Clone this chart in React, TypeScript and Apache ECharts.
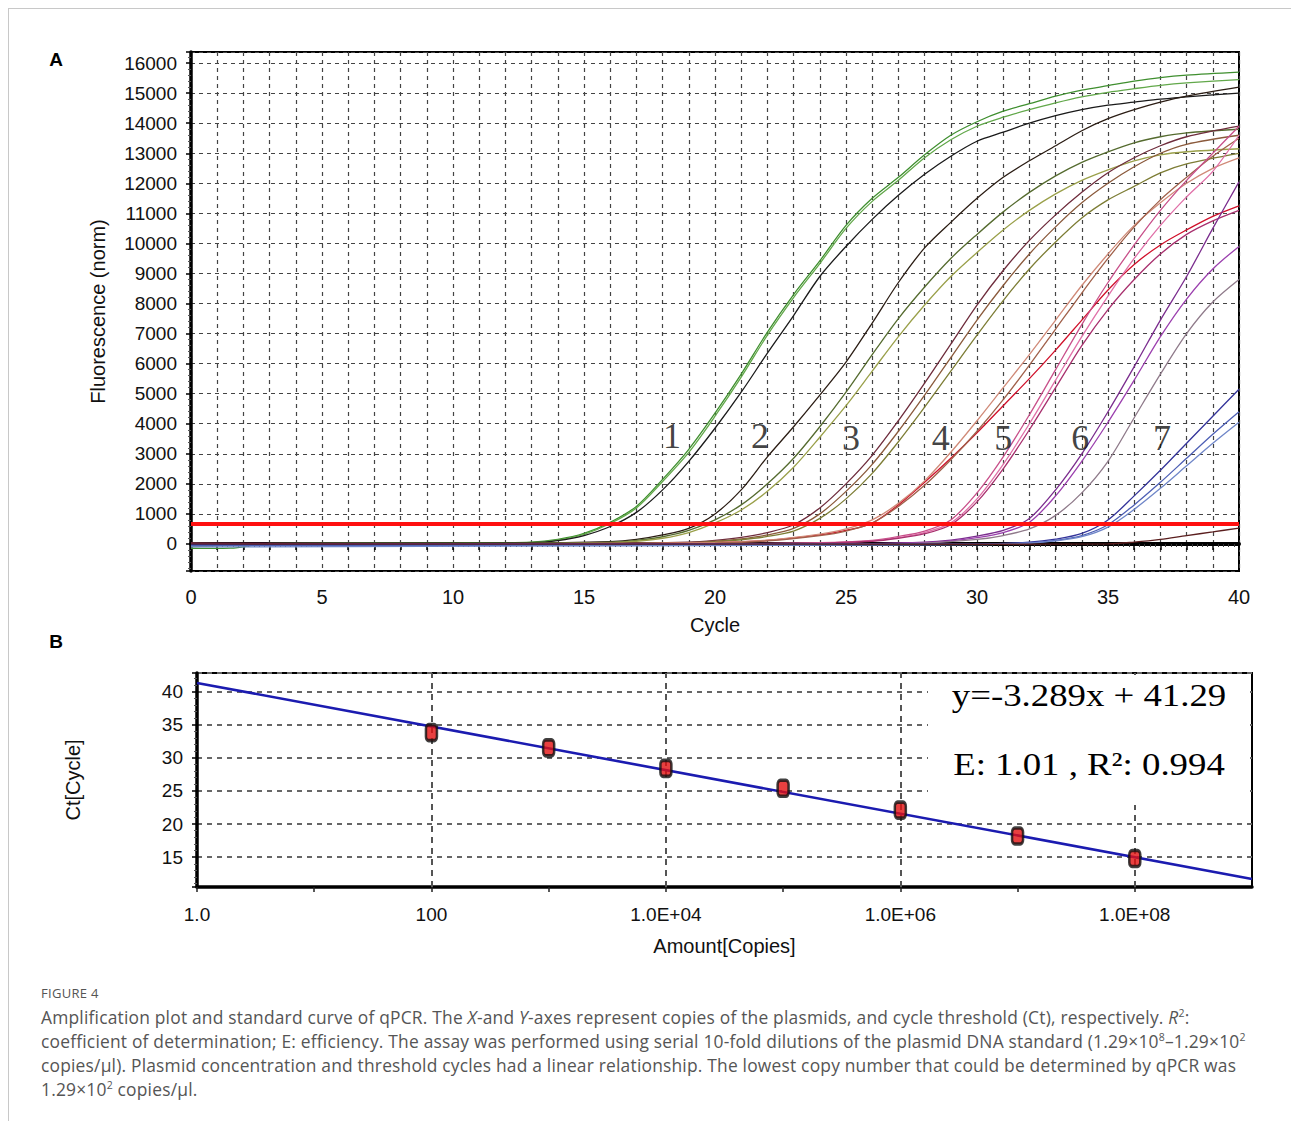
import React, { useEffect, useRef } from "react";
import * as echarts from "echarts";

// ---------- Panel A: amplification curves, [cycle, fluorescence (norm)] ----------
const curve1a = [[0,-150],[1.5,-140],[3,20],[10,30],[13,60],[14,150],[15,350],[16,720],[17,1250],[18,2150],[19,3150],[20,4350],[21,5650],[22,7050],[23,8300],[24,9420],[25,10600],[26,11500],[27,12200],[28,12950],[29,13600],[30,14050],[31,14400],[32,14650],[33,14900],[34,15100],[35,15250],[36,15400],[37,15520],[38,15600],[40,15700]];
const curve1b = [[0,-100],[3,10],[10,20],[13,50],[14,130],[15,320],[16,680],[17,1200],[18,2080],[19,3050],[20,4250],[21,5550],[22,6950],[23,8200],[24,9330],[25,10500],[26,11400],[27,12100],[28,12850],[29,13450],[30,13900],[31,14200],[32,14450],[33,14680],[34,14880],[35,15030],[36,15150],[37,15260],[38,15340],[40,15450]];
const curve1c = [[0,-60],[3,-20],[10,10],[13,40],[14,110],[15,280],[16,580],[17,1050],[18,1800],[19,2750],[20,3850],[21,5050],[22,6350],[23,7600],[24,8900],[25,9900],[26,10800],[27,11600],[28,12300],[29,12900],[30,13400],[31,13700],[32,14000],[33,14250],[34,14450],[35,14600],[36,14700],[37,14800],[38,14880],[40,15000]];
const curve2a = [[0,40],[3,10],[12,30],[16,80],[17,150],[18,300],[19,520],[20,1000],[21,1800],[22,2900],[23,3900],[24,4950],[25,6050],[26,7350],[27,8700],[28,9850],[29,10700],[30,11500],[31,12200],[32,12750],[33,13250],[34,13750],[35,14150],[36,14450],[37,14700],[38,14900],[40,15200]];
const curve2b = [[0,-30],[3,0],[12,20],[16,60],[17,120],[18,240],[19,450],[20,800],[21,1300],[22,2000],[23,2850],[24,3900],[25,5050],[26,6300],[27,7500],[28,8550],[29,9500],[30,10300],[31,11050],[32,11700],[33,12250],[34,12700],[35,13050],[36,13350],[37,13550],[38,13680],[40,13800]];
const curve2c = [[0,-80],[3,-10],[12,10],[16,40],[17,90],[18,190],[19,380],[20,700],[21,1130],[22,1750],[23,2550],[24,3550],[25,4600],[26,5750],[27,6900],[28,7950],[29,8900],[30,9700],[31,10450],[32,11100],[33,11650],[34,12100],[35,12450],[36,12750],[37,12950],[38,13050],[40,13150]];
const curve3a = [[0,30],[3,0],[15,20],[19,60],[20,120],[21,220],[22,380],[23,640],[24,1200],[25,2000],[26,2950],[27,4100],[28,5350],[29,6650],[30,7950],[31,9100],[32,10100],[33,10950],[34,11700],[35,12350],[36,12850],[37,13250],[38,13550],[40,13900]];
const curve3b = [[0,-40],[3,-10],[15,10],[19,40],[20,90],[21,170],[22,300],[23,520],[24,1000],[25,1750],[26,2650],[27,3750],[28,4950],[29,6200],[30,7450],[31,8600],[32,9650],[33,10550],[34,11350],[35,12000],[36,12550],[37,13000],[38,13300],[40,13600]];
const curve3c = [[0,-20],[3,0],[15,0],[19,30],[20,70],[21,140],[22,250],[23,430],[24,850],[25,1500],[26,2350],[27,3400],[28,4550],[29,5750],[30,6950],[31,8100],[32,9150],[33,10050],[34,10850],[35,11450],[36,11900],[37,12350],[38,12650],[40,13000]];
const curve4a = [[0,-20],[15,0],[20,40],[22,120],[24,300],[25,450],[26,690],[27,1300],[28,2050],[29,2850],[30,3700],[31,4600],[32,5500],[33,6450],[34,7450],[35,8450],[36,9300],[37,9950],[38,10450],[39,10900],[40,11250]];
const curve4b = [[0,10],[15,10],[20,50],[22,130],[24,330],[25,500],[26,800],[27,1350],[28,2100],[29,3050],[30,4100],[31,5200],[32,6300],[33,7450],[34,8600],[35,9650],[36,10600],[37,11350],[38,12000],[39,12500],[40,12850]];
const curve4c = [[0,0],[15,0],[20,30],[22,100],[24,280],[25,430],[26,700],[27,1250],[28,1950],[29,2800],[30,3750],[31,4800],[32,5950],[33,7150],[34,8350],[35,9500],[36,10550],[37,11450],[38,12200],[39,12900],[40,13500]];
const curve5a = [[0,0],[20,10],[24,40],[26,120],[27,250],[28,430],[29,800],[30,1700],[31,2900],[32,4300],[33,5800],[34,7300],[35,8700],[36,9950],[37,11100],[38,12100],[39,13000],[40,13900]];
const curve5b = [[0,-10],[20,0],[24,30],[26,100],[27,210],[28,380],[29,700],[30,1500],[31,2650],[32,4000],[33,5450],[34,6900],[35,8250],[36,9500],[37,10600],[38,11550],[39,12400],[40,13600]];
const curve5c = [[0,20],[20,0],[24,30],[26,90],[27,190],[28,340],[29,640],[30,1400],[31,2500],[32,3800],[33,5200],[34,6600],[35,7800],[36,8800],[37,9650],[38,10300],[39,10750],[40,11100]];
const curve6a = [[0,0],[25,0],[28,60],[29,130],[30,260],[31,450],[32,850],[33,1800],[34,3000],[35,4400],[36,5900],[37,7450],[38,8900],[39,10500],[40,12050]];
const curve6b = [[0,-30],[25,-10],[28,40],[29,100],[30,210],[31,380],[32,720],[33,1600],[34,2750],[35,4050],[36,5450],[37,6900],[38,8150],[39,9150],[40,9900]];
const curve6c = [[0,-50],[25,-10],[28,30],[30,150],[31,280],[32,500],[33,950],[34,1700],[35,2750],[36,4200],[37,5650],[38,7000],[39,8050],[40,8800]];
const curve7a = [[0,-20],[30,0],[32,60],[33,160],[34,350],[35,800],[36,1600],[37,2450],[38,3350],[39,4250],[40,5150]];
const curve7b = [[0,-60],[30,-10],[32,40],[33,120],[34,280],[35,640],[36,1300],[37,2050],[38,2850],[39,3650],[40,4400]];
const curve7c = [[0,-100],[30,-20],[32,30],[33,100],[34,240],[35,560],[36,1150],[37,1850],[38,2600],[39,3350],[40,4050]];
const curveLate = [[0,0],[30,-10],[35,0],[36,60],[37,150],[38,280],[39,400],[40,530]];

const curveList = [curve1a, curve1b, curve1c, curve2a, curve2b, curve2c, curve3a, curve3b, curve3c, curve4a, curve4b, curve4c, curve5a, curve5b, curve5c, curve6a, curve6b, curve6c, curve7a, curve7b, curve7c, curveLate];
const curveColors = ["#3f8f2f", "#62a84a", "#1a1a1a", "#2b1d14", "#556b2f", "#9aa04a", "#6e2c3c", "#8b5a3c", "#7d7d35", "#d0102a", "#d08a78", "#a0604a", "#c8508a", "#e070a8", "#a8306e", "#7b2d8e", "#9b3fae", "#8f7a8a", "#34349a", "#4d5fb5", "#6f86c8", "#5a1e1e"];

const thresholdValue = 665;

const groupLabels = ["1", "2", "3", "4", "5", "6", "7"];
const groupLabelCycles = [18.36, 21.72, 25.19, 28.62, 31.0, 33.94, 37.06];
const groupLabelFluor = [3600, 3600, 3540, 3540, 3540, 3540, 3540];

// ---------- Panel B: standard curve ----------
const amountCopies = [100, 1000, 1e4, 1e5, 1e6, 1e7, 1e8];
const ctValues = [33.8, 31.5, 28.4, 25.4, 22.1, 18.2, 14.8];
const fitAmounts = [1, 1e9];
const fitCt = [41.3, 11.7];
const verticalGridAmounts = [100, 1e4, 1e6, 1e8];

const SANS = "'Liberation Sans', Arial, sans-serif";
const SERIF = "'Liberation Serif', 'Times New Roman', serif";

function logLabel(v: number) {
  const e = Math.round(Math.log10(v));
  if (e % 2 !== 0 || e > 8) return "";
  if (e === 0) return "1.0";
  if (e === 2) return "100";
  return "1.0E+" + (e < 10 ? "0" + e : String(e));
}

export default function App() {
  const ref = useRef<HTMLDivElement>(null);

  useEffect(() => {
    if (!ref.current) return;
    const chart = echarts.init(ref.current, null, { renderer: "svg" });

    const curveSeries = curveList.map((d, i) => ({
      type: "line",
      xAxisIndex: 0,
      yAxisIndex: 0,
      data: d,
      showSymbol: false,
      symbol: "none",
      smooth: 0.3,
      silent: true,
      z: 3,
      lineStyle: { color: curveColors[i], width: 1.3 },
      ...(i === 0
        ? {
            markLine: {
              silent: true,
              symbol: "none",
              label: { show: false },
              lineStyle: { color: "#ff1010", width: 4, type: "solid" },
              data: [{ yAxis: thresholdValue }],
              z: 4,
            },
          }
        : {}),
    }));

    const option: any = {
      animation: false,
      grid: [
        { left: 191, top: 52, width: 1048, height: 519, show: true, borderColor: "#000", borderWidth: 2, backgroundColor: "rgba(0,0,0,0)" },
        { left: 197, top: 673, width: 1055, height: 214, show: true, borderColor: "#000", borderWidth: 2, backgroundColor: "rgba(0,0,0,0)" },
      ],
      xAxis: [
        {
          type: "value",
          gridIndex: 0,
          min: 0,
          max: 40,
          interval: 1,
          axisLine: { show: true, lineStyle: { color: "#000", width: 4 } },
          axisTick: { show: true, length: 6, lineStyle: { color: "#000", width: 1.5 } },
          minorTick: { show: true, splitNumber: 5, length: 3, lineStyle: { color: "#333", width: 1 } },
          minorSplitLine: { show: false },
          axisLabel: { formatter: (v: number) => (v % 5 === 0 ? String(v) : ""), fontSize: 20, color: "#111", margin: 16, fontFamily: SANS },
          splitLine: { show: true, lineStyle: { color: "#444", width: 1.2, type: [4, 4] } },
          name: "Cycle",
          nameLocation: "middle",
          nameGap: 44,
          nameTextStyle: { fontSize: 20, color: "#111", fontFamily: SANS },
        },
        {
          type: "log",
          logBase: 10,
          gridIndex: 1,
          min: 1,
          max: 1e9,
          axisLine: { show: true, lineStyle: { color: "#000", width: 3.5 } },
          axisTick: { show: true, length: 5, lineStyle: { color: "#222", width: 1.5 } },
          axisLabel: { formatter: logLabel, fontSize: 19, color: "#111", margin: 18, fontFamily: SANS, showMaxLabel: false },
          splitLine: { show: false },
          name: "Amount[Copies]",
          nameLocation: "middle",
          nameGap: 49,
          nameTextStyle: { fontSize: 20, color: "#111", fontFamily: SANS },
        },
      ],
      yAxis: [
        {
          type: "value",
          gridIndex: 0,
          min: -900,
          max: 16370,
          splitNumber: 17,
          axisLine: { show: true, lineStyle: { color: "#000", width: 3.5 } },
          axisTick: { show: true, length: 5, lineStyle: { color: "#000", width: 1.5 } },
          minorTick: { show: true, splitNumber: 5, length: 3, lineStyle: { color: "#555", width: 1 } },
          axisLabel: { formatter: (v: number) => (Math.abs(v % 1000) < 1e-6 ? String(v) : ""), fontSize: 19, color: "#111", margin: 14, fontFamily: SANS },
          splitLine: { show: true, lineStyle: { color: "#444", width: 1.2, type: [4, 4] } },
          name: "Fluorescence (norm)",
          nameLocation: "middle",
          nameGap: 83,
          nameTextStyle: { fontSize: 20, color: "#111", fontFamily: SANS },
        },
        {
          type: "value",
          gridIndex: 1,
          min: 10.5,
          max: 42.8,
          splitNumber: 6,
          axisLine: { show: true, lineStyle: { color: "#000", width: 3.5 } },
          axisTick: { show: true, length: 5, lineStyle: { color: "#000", width: 1.5 } },
          minorTick: { show: true, splitNumber: 5, length: 3, lineStyle: { color: "#555", width: 1 } },
          axisLabel: { formatter: (v: number) => (Math.abs(v % 5) < 1e-6 ? String(v) : ""), fontSize: 19, color: "#111", margin: 14, fontFamily: SANS },
          splitLine: { show: true, lineStyle: { color: "#666", width: 2.2, type: [5, 5] } },
          name: "Ct[Cycle]",
          nameLocation: "middle",
          nameGap: 114,
          nameTextStyle: { fontSize: 20, color: "#111", fontFamily: SANS },
        },
      ],
      graphic: [
        { type: "text", x: 56, y: 59, z: 5, style: { text: "A", fontSize: 19, fontWeight: "bold", fontFamily: SANS, fill: "#000", align: "center", verticalAlign: "middle" } },
        { type: "text", x: 56, y: 641, z: 5, style: { text: "B", fontSize: 19, fontWeight: "bold", fontFamily: SANS, fill: "#000", align: "center", verticalAlign: "middle" } },
        { type: "rect", z: 10, shape: { x: 928, y: 675, width: 322, height: 130 }, style: { fill: "#fff" } },
        { type: "text", x: 1089, y: 695, z: 11, scaleX: 1.15, style: { text: "y=-3.289x + 41.29", fontSize: 32, fontFamily: SERIF, fill: "#000", align: "center", verticalAlign: "middle" } },
        { type: "text", x: 1089, y: 764, z: 11, scaleX: 1.15, style: { text: "E: 1.01 , R²: 0.994", fontSize: 32, fontFamily: SERIF, fill: "#000", align: "center", verticalAlign: "middle" } },
      ],
      series: [
        ...curveSeries,
        {
          type: "scatter",
          xAxisIndex: 0,
          yAxisIndex: 0,
          symbolSize: 0,
          silent: true,
          z: 5,
          data: groupLabels.map((n, i) => ({ name: n, value: [groupLabelCycles[i], groupLabelFluor[i]] })),
          label: { show: true, position: "inside", formatter: (p: any) => p.name, fontSize: 36, fontFamily: SERIF, color: "#111" },
        },
        {
          type: "line",
          xAxisIndex: 1,
          yAxisIndex: 1,
          data: fitAmounts.map((a, i) => [a, fitCt[i]]),
          symbol: "none",
          silent: true,
          z: 3,
          lineStyle: { color: "#1b1bb0", width: 2.6 },
          markLine: {
            silent: true,
            symbol: "none",
            label: { show: false },
            z: 2,
            lineStyle: { color: "#555", width: 2, type: [6, 5] },
            data: verticalGridAmounts.map((a) => ({ xAxis: a })),
          },
        },
        {
          type: "scatter",
          xAxisIndex: 1,
          yAxisIndex: 1,
          symbol: "roundRect",
          symbolSize: [11, 16],
          silent: true,
          z: 4,
          itemStyle: { color: "#e41010", borderColor: "#111", borderWidth: 3 },
          data: amountCopies.map((a, i) => [a, ctValues[i]]),
        },
      ],
    };

    chart.setOption(option);
    return () => chart.dispose();
  }, []);

  const capStyle: React.CSSProperties = { whiteSpace: "nowrap", height: 24, lineHeight: "24px", overflow: "visible" };
  const supStyle: React.CSSProperties = { fontSize: 10.5, position: "relative", top: -7, lineHeight: 0 };

  return (
    <div style={{ position: "absolute", left: 0, top: 0, width: 1291, height: 1122, background: "#fff", overflow: "hidden" }}>
      <div style={{ position: "absolute", left: 8, top: 8, width: 1290, height: 1112, borderTop: "1px solid #c8c8c8", borderLeft: "1px solid #c8c8c8" }} />
      <div ref={ref} style={{ position: "absolute", left: 0, top: 0, width: 1291, height: 975 }} />
      <div style={{ position: "absolute", left: 41, top: 984, fontFamily: "'Open Sans', 'Noto Sans', sans-serif", fontSize: 13, color: "#555", letterSpacing: 0.3 }}>FIGURE 4</div>
      <div style={{ position: "absolute", left: 41, top: 1005, fontFamily: "'Open Sans', 'Noto Sans', sans-serif", fontSize: 17.4, letterSpacing: 0.2, color: "#555" }}>
        <div style={capStyle}>
          Amplification plot and standard curve of qPCR. The <i>X</i>-and <i>Y</i>-axes represent copies of the plasmids, and cycle threshold (Ct), respectively. <i>R</i>
          <span style={supStyle}>2</span>:
        </div>
        <div style={capStyle}>
          coefficient of determination; E: efficiency. The assay was performed using serial 10-fold dilutions of the plasmid DNA standard (1.29×10<span style={supStyle}>8</span>–1.29×10<span style={supStyle}>2</span>
        </div>
        <div style={capStyle}>
          copies/μl). Plasmid concentration and threshold cycles had a linear relationship. The lowest copy number that could be determined by qPCR was
        </div>
        <div style={capStyle}>
          1.29×10<span style={supStyle}>2</span> copies/μl.
        </div>
      </div>
    </div>
  );
}
